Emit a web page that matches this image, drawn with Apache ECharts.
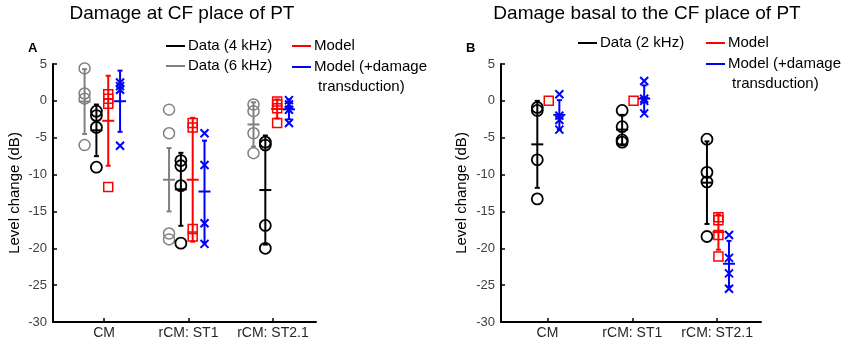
<!DOCTYPE html>
<html>
<head>
<meta charset="utf-8">
<script src="https://cdn.jsdelivr.net/npm/echarts@6/dist/echarts.min.js"></script>
<style>
html,body{margin:0;padding:0;background:#fff;}
#chart{width:856px;height:345px;}
</style>
</head>
<body>
<div id="chart"></div>
<script>
// ---------- data ----------
const categories = ['CM', 'rCM: ST1', 'rCM: ST2.1'];
const yTickMin = -30, yTickMax = 5, yTickStep = 5;

// Panel A: Damage at CF place of PT
const A_data4k_points = [[-1.4, -2.0, -3.6, -9.0], [-8.1, -8.8, -11.5, -19.3], [-5.6, -6.0, -16.9, -20.0]];
const A_data4k_mean = [-4.0, -12.0, -12.1];
const A_data4k_sd = [3.5, 4.95, 7.4];

const A_data6k_points = [[4.4, 1.0, 0.3, -6.0], [-1.2, -4.4, -18.0, -18.8], [-0.5, -1.4, -4.4, -7.1]];
const A_data6k_mean = [-0.1, -10.7, -3.2];
const A_data6k_sd = [4.4, 4.3, 3.0];

const A_model_points = [[0.9, 0.3, -0.4, -11.7], [-3.0, -3.6, -17.4, -18.4], [-0.1, -0.5, -1.0, -3.0]];
const A_model_mean = [-2.7, -10.7, -1.1];
const A_model_sd = [6.1, 8.4, 1.3];

const A_modelDT_points = [[2.5, 2.0, 1.5, -6.1], [-4.4, -8.7, -16.6, -19.4], [0.1, -0.5, -1.2, -3.0]];
const A_modelDT_mean = [-0.05, -12.3, -1.15];
const A_modelDT_sd = [4.15, 6.9, 1.35];

// Panel B: Damage basal to the CF place of PT
const B_data2k_points = [[-0.9, -1.3, -8.0, -13.3], [-1.3, -3.5, -5.3, -5.6], [-5.2, -9.7, -11.0, -18.4]];
const B_data2k_mean = [-5.9, -3.9, -11.1];
const B_data2k_sd = [5.9, 2.0, 5.6];

const B_model_points = [[0.0], [0.0], [-15.8, -16.2, -18.2, -21.1]];
const B_model_mean = [null, null, -17.8];
const B_model_sd = [null, null, 2.4];

const B_modelDT_points = [[0.9, -2.0, -2.6, -3.9], [2.7, 0.3, 0.0, -1.7], [-18.2, -21.3, -23.4, -25.5]];
const B_modelDT_mean = [-1.9, 0.3, -22.1];
const B_modelDT_sd = [2.0, 1.8, 3.1];

// ---------- styling ----------
const FONT = 'Liberation Sans';
const GRAY = '#808080', BLACK = '#000000', RED = '#ff0000', BLUE = '#0000ff';
const CROSS = 'path://M0,0L10,10M10,0L0,10';

function pointsSeries(axisIdx, pts, offset, color, symbol, size, bw) {
  const data = [];
  pts.forEach((arr, ci) => arr.forEach(v => data.push([ci + 1 + offset, v])));
  return {
    type: 'scatter', xAxisIndex: axisIdx, yAxisIndex: axisIdx, data: data,
    symbol: symbol, symbolSize: size, z: 5, silent: true,
    itemStyle: { color: 'rgba(0,0,0,0)', borderColor: color, borderWidth: bw, opacity: 1 }
  };
}

function barSeries(axisIdx, means, sds, offset, color) {
  const data = [];
  means.forEach((m, ci) => { if (m !== null) data.push([ci + 1 + offset, m, sds[ci]]); });
  return {
    type: 'custom', xAxisIndex: axisIdx, yAxisIndex: axisIdx, data: data, z: 4, silent: true,
    renderItem: function (params, api) {
      const x = api.value(0), m = api.value(1), s = api.value(2);
      const top = api.coord([x, m + s]);
      const bot = api.coord([x, m - s]);
      const mid = api.coord([x, m]);
      const st = { stroke: color, lineWidth: 2 };
      return {
        type: 'group',
        children: [
          { type: 'line', shape: { x1: top[0], y1: top[1], x2: bot[0], y2: bot[1] }, style: st },
          { type: 'line', shape: { x1: top[0] - 2.5, y1: top[1], x2: top[0] + 2.5, y2: top[1] }, style: st },
          { type: 'line', shape: { x1: bot[0] - 2.5, y1: bot[1], x2: bot[0] + 2.5, y2: bot[1] }, style: st },
          { type: 'line', shape: { x1: mid[0] - 6, y1: mid[1], x2: mid[0] + 6, y2: mid[1] }, style: st }
        ]
      };
    }
  };
}

function makeX(idx, min, max) {
  return {
    type: 'value', gridIndex: idx, min: min, max: max,
    axisLine: { show: true, onZero: false, lineStyle: { color: '#000', width: 2 } },
    axisTick: { show: true, inside: true, length: 4, customValues: [1, 2, 3], lineStyle: { color: '#000', width: 1.5 } },
    axisLabel: { show: true, customValues: [1, 2, 3], formatter: v => categories[Math.round(v) - 1],
                 fontFamily: FONT, fontSize: 14, color: '#262626', margin: 4 },
    splitLine: { show: false }
  };
}
function makeY(idx) {
  return {
    type: 'value', gridIndex: idx, min: yTickMin, max: yTickMax, interval: yTickStep,
    name: 'Level change (dB)', nameLocation: 'middle', nameGap: 31,
    nameTextStyle: { fontFamily: FONT, fontSize: 15, color: '#000' },
    axisLine: { show: true, lineStyle: { color: '#000', width: 2 } },
    axisTick: { show: true, inside: true, length: 4, lineStyle: { color: '#000', width: 1.5 } },
    axisLabel: { fontFamily: FONT, fontSize: 13, color: '#404040', margin: 6 },
    splitLine: { show: false }
  };
}

function legendItem(x, y, color, lines) {
  const els = [{ type: 'line', shape: { x1: x, y1: y, x2: x + 19, y2: y }, style: { stroke: color, lineWidth: 2 } }];
  lines.forEach((t, i) => els.push({
    type: 'text', x: x + 22 + (i > 0 ? 4 : 0), y: y + i * 20,
    style: { text: t, fontFamily: FONT, fontSize: 15, fill: '#000', textVerticalAlign: 'middle' }
  }));
  return els;
}

const graphics = [].concat(
  [{ type: 'text', x: 182, y: 14, style: { text: 'Damage at CF place of PT', fontFamily: FONT, fontSize: 19, fill: '#000', textAlign: 'center', textVerticalAlign: 'middle' } },
   { type: 'text', x: 647, y: 14, style: { text: 'Damage basal to the CF place of PT', fontFamily: FONT, fontSize: 19, fill: '#000', textAlign: 'center', textVerticalAlign: 'middle' } },
   { type: 'text', x: 28, y: 48, style: { text: 'A', fontFamily: FONT, fontSize: 13, fontWeight: 'bold', fill: '#000', textVerticalAlign: 'middle' } },
   { type: 'text', x: 466, y: 48, style: { text: 'B', fontFamily: FONT, fontSize: 13, fontWeight: 'bold', fill: '#000', textVerticalAlign: 'middle' } }],
  legendItem(166, 46, BLACK, ['Data (4 kHz)']),
  legendItem(166, 66, GRAY, ['Data (6 kHz)']),
  legendItem(292, 46, RED, ['Model']),
  legendItem(292, 67, BLUE, ['Model (+damage', 'transduction)']),
  legendItem(578, 43, BLACK, ['Data (2 kHz)']),
  legendItem(706, 43, RED, ['Model']),
  legendItem(706, 64, BLUE, ['Model (+damage', 'transduction)'])
);

const option = {
  animation: false,
  backgroundColor: '#fff',
  grid: [
    { left: 53, right: 540, top: 64, bottom: 23 },
    { left: 501, right: 95, top: 64, bottom: 23 }
  ],
  xAxis: [makeX(0, 0.396, 3.51), makeX(1, 0.452, 3.517)],
  yAxis: [makeY(0), Object.assign(makeY(1), { nameGap: 32 })],
  graphic: graphics,
  series: [
    barSeries(0, A_data6k_mean, A_data6k_sd, -0.23, GRAY),
    pointsSeries(0, A_data6k_points, -0.23, GRAY, 'circle', 11, 1.5),
    barSeries(0, A_data4k_mean, A_data4k_sd, -0.09, BLACK),
    pointsSeries(0, A_data4k_points, -0.09, BLACK, 'circle', 11, 1.8),
    barSeries(0, A_model_mean, A_model_sd, 0.05, RED),
    pointsSeries(0, A_model_points, 0.05, RED, 'rect', 9, 1.5),
    barSeries(0, A_modelDT_mean, A_modelDT_sd, 0.19, BLUE),
    pointsSeries(0, A_modelDT_points, 0.19, BLUE, CROSS, 8, 2),

    barSeries(1, B_data2k_mean, B_data2k_sd, -0.12, BLACK),
    pointsSeries(1, B_data2k_points, -0.12, BLACK, 'circle', 11, 1.8),
    barSeries(1, B_model_mean, B_model_sd, 0.015, RED),
    pointsSeries(1, B_model_points, 0.015, RED, 'rect', 9, 1.5),
    barSeries(1, B_modelDT_mean, B_modelDT_sd, 0.14, BLUE),
    pointsSeries(1, B_modelDT_points, 0.14, BLUE, CROSS, 8, 2)
  ]
};

const chart = echarts.init(document.getElementById('chart'), null, { renderer: 'canvas' });
chart.setOption(option);
</script>
</body>
</html>
